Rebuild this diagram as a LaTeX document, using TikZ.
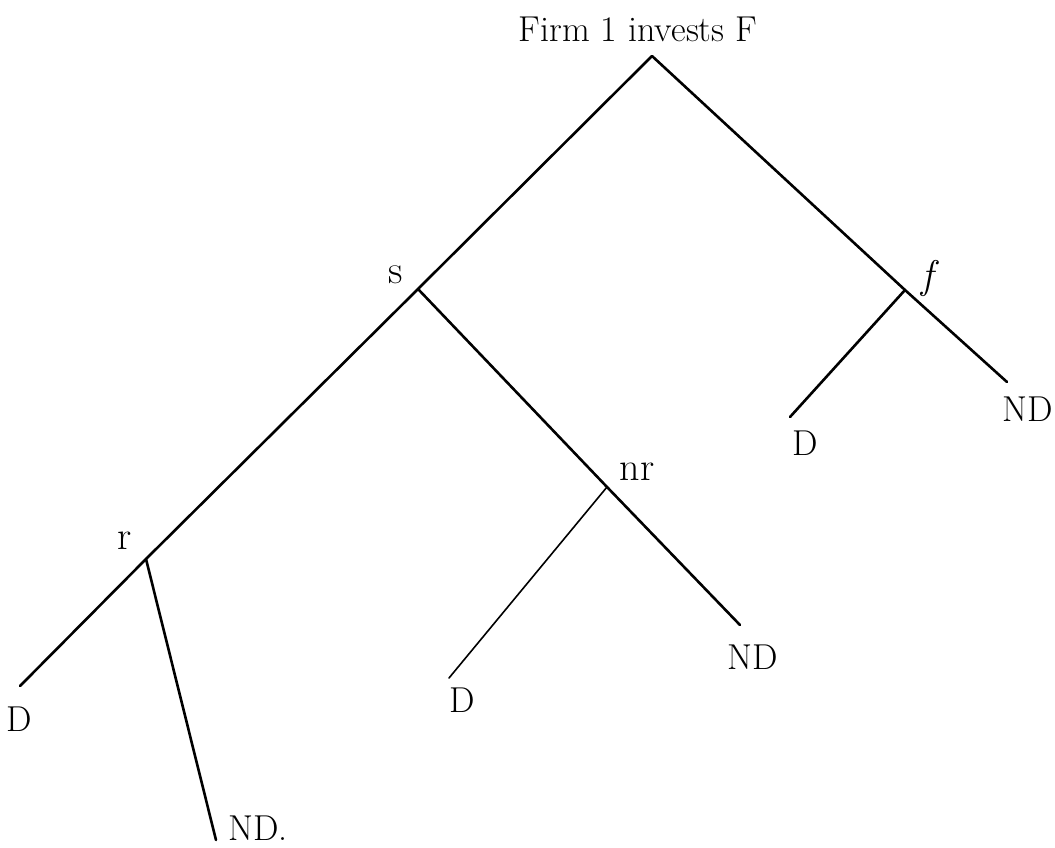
\documentclass[tikz,border=0pt]{standalone}
\usepackage{fontspec}
\begin{document}
\begin{tikzpicture}[x=1pt,y=-1pt,
  branch/.style={line width=2.6pt, line cap=round},
  thinbranch/.style={line width=1.6pt, line cap=round},
  lbl/.style={font=\fontsize{36}{40}\selectfont, inner sep=0pt},
  smalllbl/.style={font=\fontsize{40}{44}\selectfont, inner sep=0pt}]
\useasboundingbox (0,0) rectangle (1055,847);
% junctions and ends
\coordinate (root) at (652,56);
\coordinate (s) at (418,289);
\coordinate (r) at (146,559);
\coordinate (rD) at (20,686);
\coordinate (rND) at (216,840);
\coordinate (nr) at (607,487);
\coordinate (nrD) at (449,678);
\coordinate (nrND) at (740,625);
\coordinate (f) at (905,290);
\coordinate (fD) at (790,417);
\coordinate (fND) at (1007,382);
% branches
\draw[branch] (root) -- (s);
\draw[branch] (s) -- (r);
\draw[branch] (r) -- (rD);
\draw[branch] (r) -- (rND);
\draw[branch] (s) -- (nr);
\draw[branch] (nr) -- (nrND);
\draw[thinbranch] (nr) -- (nrD);
\draw[branch] (root) -- (f);
\draw[branch] (f) -- (fND);
\draw[branch] (f) -- (fD);
% labels
\node[lbl] (title) at (638,29) {Firm 1 invests F};
\node[smalllbl] (ls) at (396,275) {s};
\node[smalllbl] (lf) at (927,278) {\itshape f};
\node[smalllbl] (lnr) at (637,472) {nr};
\node[smalllbl] (lr) at (125,541) {r};
\node[lbl] (lD1) at (19,719) {D};
\node[lbl] (lND1) at (258,828) {ND.};
\node[lbl] (lD2) at (462,700) {D};
\node[lbl] (lND2) at (753,657) {ND};
\node[lbl] (lD3) at (805,443) {D};
\node[lbl] (lND3) at (1028,409) {ND};
\end{tikzpicture}
\end{document}
